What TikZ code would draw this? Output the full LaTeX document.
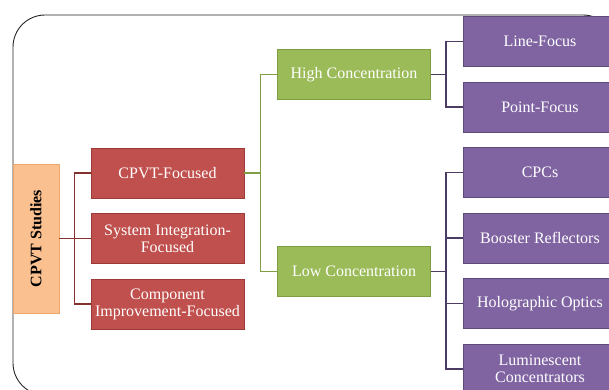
\documentclass[tikz,border=0pt]{standalone}
\usepackage{fontspec}
\setmainfont{Liberation Serif}
\usepackage{tikz}

\definecolor{studyfill}{HTML}{FAC090}
\definecolor{studyedge}{HTML}{F0A868}
\definecolor{redfill}{HTML}{C0504D}
\definecolor{rededge}{HTML}{9C3A37}
\definecolor{greenfill}{HTML}{9BBB59}
\definecolor{greenedge}{HTML}{7F9E43}
\definecolor{purplefill}{HTML}{8064A2}
\definecolor{purpleedge}{HTML}{5F4A7C}

\begin{document}
\begin{tikzpicture}[x=1pt,y=-1pt,
		block/.style={draw,line width=0.8pt,text=white,minimum width=153pt,minimum height=50pt,
			align=center,inner sep=2pt,font=\fontsize{16}{17}\selectfont},
		redblock/.style={block,fill=redfill,draw=rededge},
		greenblock/.style={block,fill=greenfill,draw=greenedge},
		purpleblock/.style={block,fill=purplefill,draw=purpleedge},
		redlink/.style={line width=1.4pt,draw=rededge!85!black},
		greenlink/.style={line width=1.4pt,draw=greenedge},
		purplelink/.style={line width=1.4pt,draw=purpleedge!80!black}
		]
		\clip (0,0) rectangle (609,389);
		%Draw frame
		\draw[line width=0.9pt,draw=black!85,rounded corners=32pt] (13,15) rectangle (615,395);
		%Draw root
		\path (36,238.5) node[draw=studyedge,fill=studyfill,line width=0.8pt,minimum width=46pt,minimum height=149pt,
			inner sep=0pt,font=\fontsize{16}{17}\selectfont\bfseries] (studies) {\rotatebox{90}{CPVT Studies}};
		%Draw study types
		\path (167.5,173) node[redblock] (cpvt) {CPVT-Focused}
		+(0,65.5) node[redblock] (sysint) {System Integration-\\Focused}
		+(0,131) node[redblock] (comp) {Component\\Improvement-Focused};
		%Draw concentration levels
		\path (354,74.5) node[greenblock] (high) {High Concentration}
		+(0,197) node[greenblock] (low) {Low Concentration};
		%Draw concentrator types
		\path (540,41.5) node[purpleblock] (line) {Line-Focus}
		+(0,65.5) node[purpleblock] (point) {Point-Focus}
		+(0,131) node[purpleblock] (cpc) {CPCs}
		+(0,196.5) node[purpleblock] (booster) {Booster Reflectors}
		+(0,262) node[purpleblock] (holo) {Holographic Optics}
		+(0,327.5) node[purpleblock] (lumi) {Luminescent\\Concentrators};
		
		\draw[redlink] (studies.east) -- ++(15,0) |- (cpvt.west);
		\draw[redlink] (studies.east) -- ++(15,0) |- (sysint.west);
		\draw[redlink] (studies.east) -- ++(15,0) |- (comp.west);
		\draw[greenlink] (cpvt.east) -- ++(16,0) |- (high.west);
		\draw[greenlink] (cpvt.east) -- ++(16,0) |- (low.west);
		\draw[purplelink] (high.east) -- ++(15,0) |- (line.west);
		\draw[purplelink] (high.east) -- ++(15,0) |- (point.west);
		\draw[purplelink] (low.east) -- ++(15,0) |- (cpc.west);
		\draw[purplelink] (low.east) -- ++(15,0) |- (booster.west);
		\draw[purplelink] (low.east) -- ++(15,0) |- (holo.west);
		\draw[purplelink] (low.east) -- ++(15,0) |- (lumi.west);
	\end{tikzpicture}
\end{document}
